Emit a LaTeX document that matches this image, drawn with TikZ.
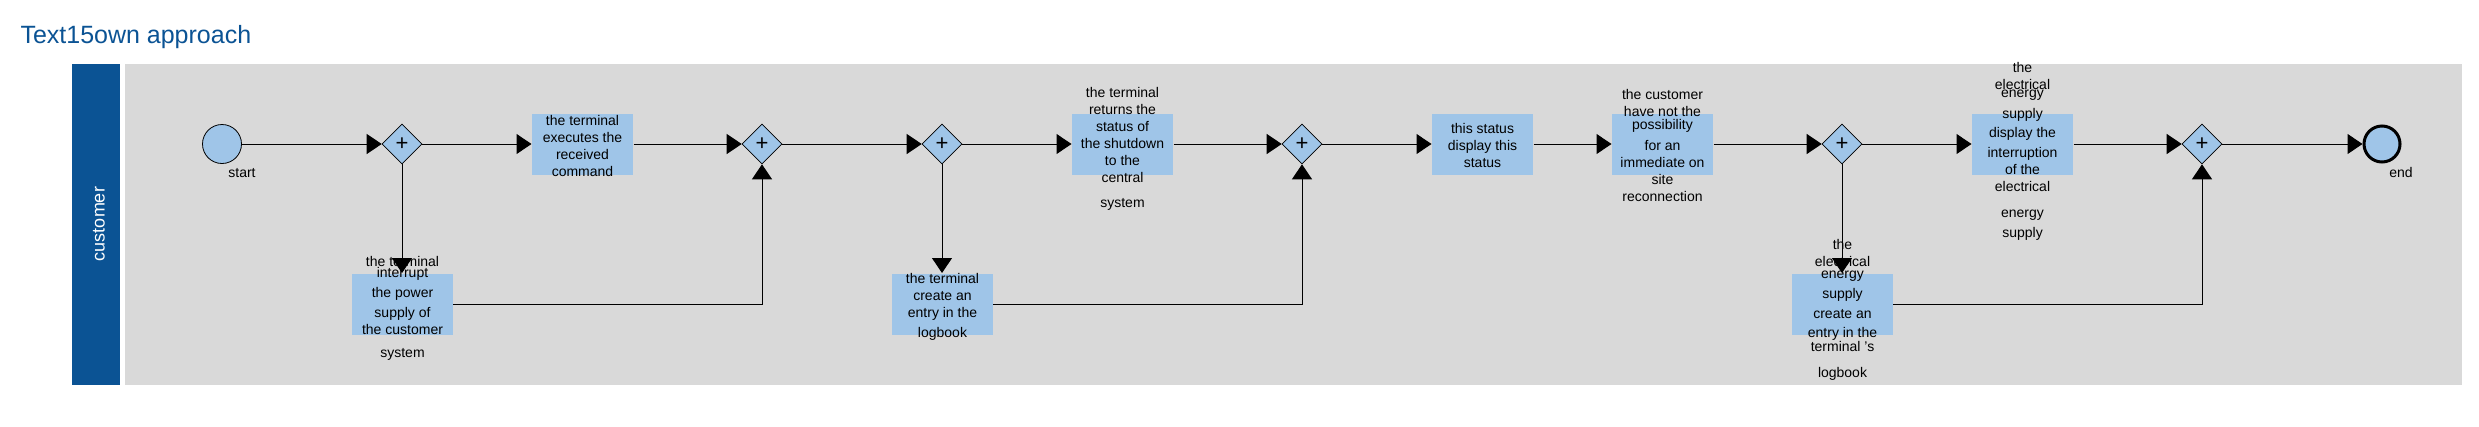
\documentclass[tikz,border=0pt]{standalone}
\usepackage{fontspec}
\setmainfont{Liberation Sans}
\usetikzlibrary{arrows.meta,shapes.geometric}
\definecolor{lanecol}{HTML}{0B5394}
\definecolor{taskcol}{HTML}{9FC5E8}
\definecolor{poolcol}{HTML}{D9D9D9}
\begin{document}
\begin{tikzpicture}[x=1pt, y=-1pt, >={Triangle[length=15pt,width=20pt]}, line width=1pt,
  task/.style={fill=taskcol, minimum width=101pt, minimum height=61pt, inner sep=0pt},
  txt/.style={align=center, inner sep=0pt, font=\fontsize{14}{17}\selectfont},
  gw/.style={draw, diamond, fill=taskcol, line width=0.6pt, minimum width=40pt, minimum height=40pt, inner sep=0pt, font=\fontsize{22}{22}\selectfont},
  lbl/.style={anchor=base, inner sep=0pt, font=\fontsize{14}{17}\selectfont}]
\useasboundingbox (0,0) rectangle (2479,426);
% Titulo e raia
\node[anchor=base west, inner sep=0pt, text=lanecol, font=\fontsize{25}{30}\selectfont] (title) at (20,43) {Text15own approach};
\fill[poolcol] (125,64) rectangle (2462,385);
\fill[lanecol] (72,64) rectangle (120,385);
\node[rotate=90, text=white, inner sep=0pt, font=\fontsize{18}{20}\selectfont] (lane) at (99,224) {customer};

% Eventos
\node[draw, circle, fill=taskcol, line width=0.8pt, minimum size=39pt, inner sep=0pt] (start) at (222,144) {};
\node[lbl] (startlbl) at (242,177) {start};
\node[draw, circle, fill=taskcol, line width=3pt, minimum size=36pt, inner sep=0pt] (stop) at (2382,144) {};
\node[lbl] (stoplbl) at (2401,177) {end};

% Gateways
\node[gw] (g1) at (402,144) {+};
\node[gw] (g2) at (762,144) {+};
\node[gw] (g3) at (942,144) {+};
\node[gw] (g4) at (1302,144) {+};
\node[gw] (g5) at (1842,144) {+};
\node[gw] (g6) at (2202,144) {+};

% Tarefas
\node[task] (t1) at (582.5,144) {};
\node[task] (t2) at (402,304) {};
\node[task] (t3) at (942,304) {};
\node[task] (t4) at (1122.5,144) {};
\node[task] (t5) at (1482.5,144) {};
\node[task] (t6) at (1662.5,144) {};
\node[task] (t7) at (1842,304) {};
\node[task] (t8) at (2022.5,144) {};

% Textos das tarefas
\node[txt] (t1txt) at (582.5,145.5) {the terminal\\executes the\\received\\command};
\node[txt] (t2txt) at (402.5,308.5) {the terminal\\[-6pt]interrupt\\[3pt]the power\\[3pt]supply of\\the customer\\[6pt]system};
\node[txt] (t3txt) at (942.5,307) {the terminal\\create an\\entry in the\\[3pt]logbook};
\node[txt] (t4txt) at (1122.5,149) {the terminal\\returns the\\status of\\the shutdown\\to the\\central\\[8pt]system};
\node[txt] (t5txt) at (1482.5,145) {this status\\display this\\status};
\node[txt] (t6txt) at (1662.5,145) {the customer\\have not the\\[-4pt]possibility\\[4pt]for an\\immediate on\\site\\reconnection};
\node[txt] (t7txt) at (1842.5,310) {the\\electrical\\[-5pt]energy\\[3pt]supply\\[3pt]create an\\[2pt]entry in the\\[-3pt]terminal 's\\[9pt]logbook};
\node[txt] (t8txt) at (2022.5,151.5) {the\\electrical\\[-9pt]energy\\[4pt]supply\\[2pt]display the\\[3pt]interruption\\of the\\electrical\\[9pt]energy\\[3pt]supply};

% Fluxos
\draw[->] (start) -- (g1.west);
\draw[->] (g1.east) -- (t1.west);
\draw[->] (g1.south) -- (t2.north);
\draw[->] (t1.east) -- (g2.west);
\draw[->] (t2.east) -| (g2.south);
\draw[->] (g2.east) -- (g3.west);
\draw[->] (g3.east) -- (t4.west);
\draw[->] (g3.south) -- (t3.north);
\draw[->] (t4.east) -- (g4.west);
\draw[->] (t3.east) -| (g4.south);
\draw[->] (g4.east) -- (t5.west);
\draw[->] (t5.east) -- (t6.west);
\draw[->] (t6.east) -- (g5.west);
\draw[->] (g5.east) -- (t8.west);
\draw[->] (g5.south) -- (t7.north);
\draw[->] (t8.east) -- (g6.west);
\draw[->] (t7.east) -| (g6.south);
\draw[->] (g6.east) -- (stop);
\end{tikzpicture}
\end{document}
